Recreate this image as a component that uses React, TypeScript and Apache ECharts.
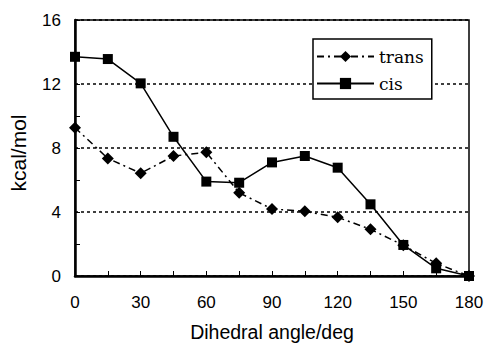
import React, { useEffect, useRef } from "react";
import * as echarts from "echarts";

const angles = [0, 15, 30, 45, 60, 75, 90, 105, 120, 135, 150, 165, 180];
const transValues = [9.27, 7.35, 6.42, 7.5, 7.73, 5.2, 4.19, 4.04, 3.67, 2.92, 1.92, 0.79, 0];
const cisValues = [13.7, 13.56, 12.04, 8.7, 5.9, 5.83, 7.1, 7.5, 6.77, 4.48, 1.94, 0.48, 0];
const seriesNames = ["trans", "cis"];
const xAxisName = "Dihedral angle/deg";
const yAxisName = "kcal/mol";

const sans = "'Liberation Sans', Arial, sans-serif";
const serif = "'DejaVu Serif', serif";

export default function App() {
  const ref = useRef<HTMLDivElement>(null);
  useEffect(() => {
    if (!ref.current) return;
    const chart = echarts.init(ref.current, undefined, { renderer: "svg" });
    const pair = (vals: number[]) => angles.map((a, i) => [a, vals[i]]);
    chart.setOption({
      animation: false,
      backgroundColor: "#fff",
      grid: {
        left: 75,
        right: 16,
        top: 20,
        bottom: 67,
        outerBoundsMode: "none",
        containLabel: false,
        show: true,
        borderColor: "#000",
        borderWidth: 1.5,
        backgroundColor: "transparent",
      },
      legend: {
        orient: "vertical",
        left: 313,
        top: 39,
        data: seriesNames,
        backgroundColor: "#fff",
        borderColor: "#000",
        borderWidth: 1.5,
        padding: [9, 8, 7, 3],
        itemWidth: 57,
        itemHeight: 14,
        itemGap: 10,
        textStyle: { fontFamily: serif, fontSize: 17, color: "#000" },
      },
      xAxis: {
        type: "value",
        min: 0,
        max: 180,
        interval: 30,
        name: xAxisName,
        nameLocation: "middle",
        nameGap: 46,
        nameTextStyle: { fontFamily: sans, fontSize: 19.5, color: "#000" },
        axisLine: { show: true, onZero: false, lineStyle: { color: "#000", width: 2.5 } },
        axisTick: { show: true, inside: true, length: 5, lineStyle: { color: "#000", width: 1 } },
        minorTick: { show: true, splitNumber: 2, length: 5, lineStyle: { color: "#000", width: 1 } },
        axisLabel: { fontFamily: sans, fontSize: 17, color: "#000", margin: 18 },
        splitLine: { show: false },
      },
      yAxis: {
        type: "value",
        min: 0,
        max: 16,
        interval: 4,
        name: yAxisName,
        nameLocation: "middle",
        nameGap: 46,
        nameTextStyle: { fontFamily: sans, fontSize: 21, color: "#000", padding: [0, 10, 0, 0] },
        axisLine: { show: true, onZero: false, lineStyle: { color: "#000", width: 2.5 } },
        axisTick: { show: true, inside: true, length: 5, lineStyle: { color: "#000", width: 1 } },
        minorTick: { show: true, splitNumber: 2, length: 5, lineStyle: { color: "#000", width: 1 } },
        axisLabel: { fontFamily: sans, fontSize: 17, color: "#000", margin: 14 },
        splitLine: { show: true, lineStyle: { color: "#000", width: 1.5, type: [3, 3] } },
      },
      series: [
        {
          name: seriesNames[0],
          type: "line",
          data: pair(transValues),
          symbol: "diamond",
          symbolSize: 12,
          itemStyle: { color: "#000" },
          lineStyle: { color: "#000", width: 1.5, type: [7, 4, 2, 4] },
          z: 3,
        },
        {
          name: seriesNames[1],
          type: "line",
          data: pair(cisValues),
          symbol: "rect",
          symbolSize: 10,
          itemStyle: { color: "#000" },
          lineStyle: { color: "#000", width: 1.5 },
          z: 4,
        },
      ],
    });
    return () => chart.dispose();
  }, []);
  return <div ref={ref} style={{ width: 485, height: 343, position: "absolute", left: 0, top: 0 }} />;
}
